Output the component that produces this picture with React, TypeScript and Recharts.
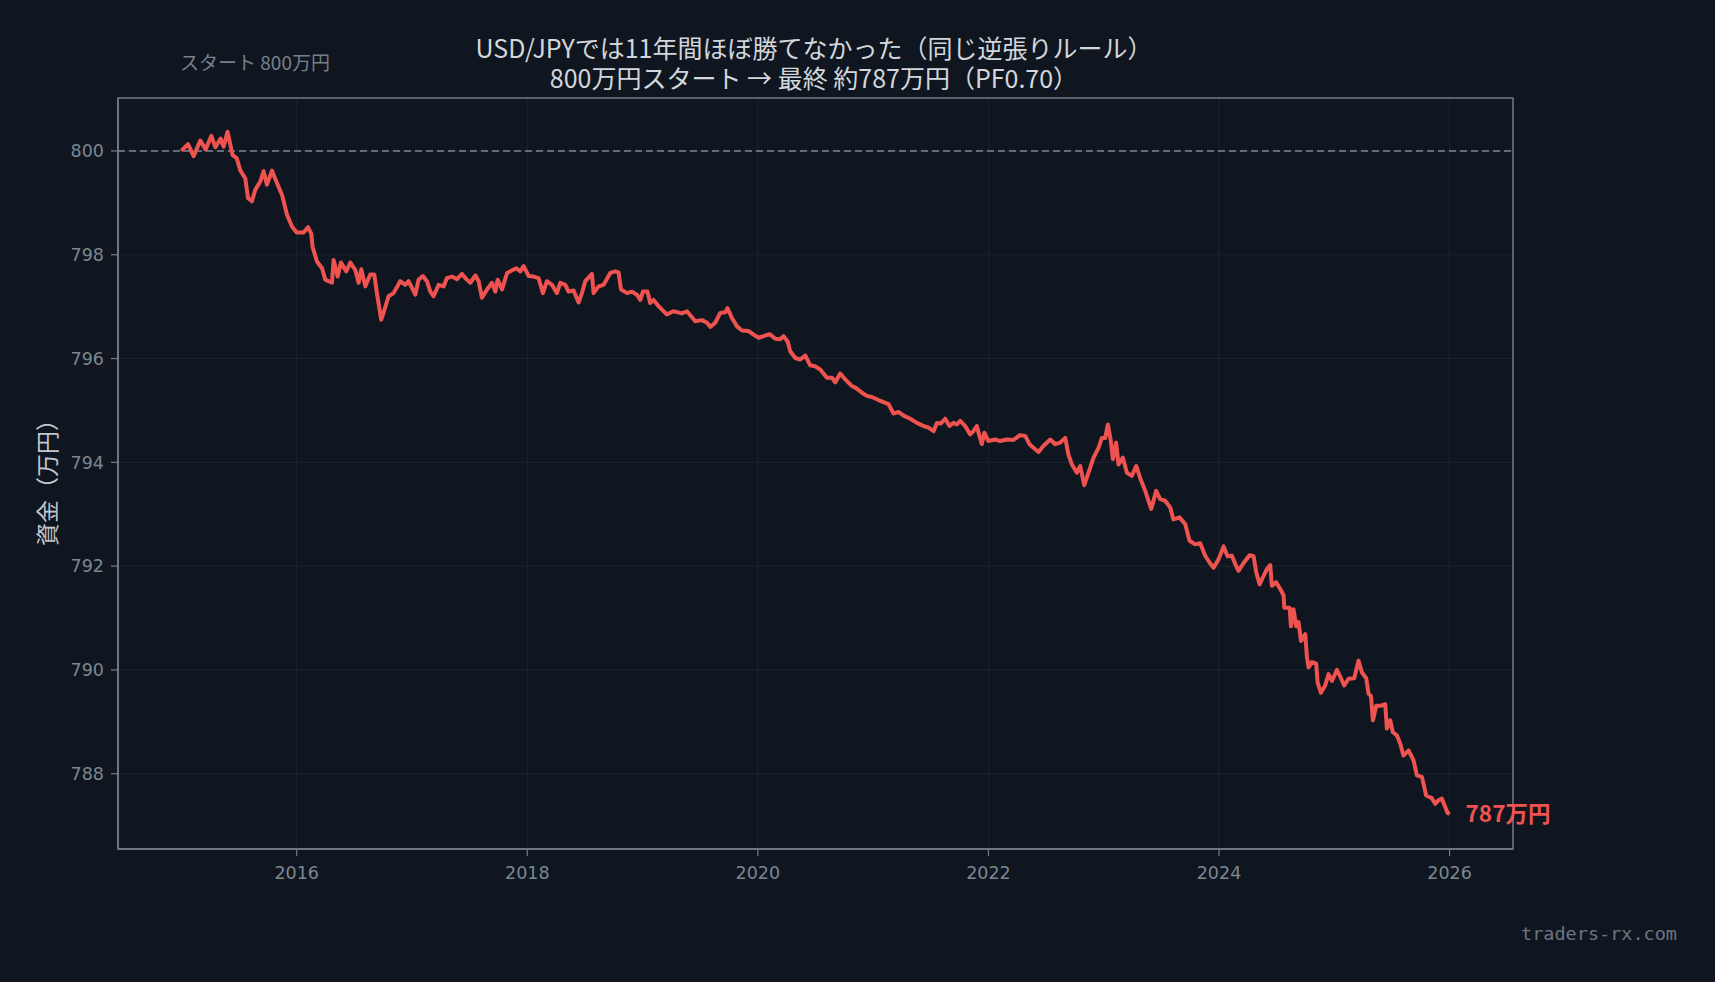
import React from "react";
import {
  LineChart,
  Line,
  XAxis,
  YAxis,
  CartesianGrid,
  ReferenceLine,
  ReferenceArea,
  ReferenceDot,
} from "recharts";

// 年（小数）と資金（万円）
const years = [
  2015.0, 2015.057, 2015.106, 2015.164, 2015.21, 2015.26, 2015.295, 2015.34, 2015.366, 2015.4,
  2015.444, 2015.48, 2015.51, 2015.554, 2015.578, 2015.612, 2015.64, 2015.684, 2015.713, 2015.742,
  2015.786, 2015.829, 2015.873, 2015.916, 2015.96, 2016.0, 2016.06, 2016.098, 2016.127, 2016.138,
  2016.176, 2016.22, 2016.248, 2016.306, 2016.32, 2016.355, 2016.384, 2016.43, 2016.465, 2016.508,
  2016.537, 2016.56, 2016.595, 2016.638, 2016.673, 2016.696, 2016.733, 2016.753, 2016.797, 2016.84,
  2016.898, 2016.941, 2016.97, 2017.0, 2017.029, 2017.057, 2017.095, 2017.13, 2017.159, 2017.187,
  2017.231, 2017.274, 2017.303, 2017.347, 2017.39, 2017.434, 2017.471, 2017.506, 2017.55, 2017.578,
  2017.607, 2017.651, 2017.694, 2017.723, 2017.743, 2017.781, 2017.825, 2017.868, 2017.905, 2017.94,
  2017.968, 2018.012, 2018.055, 2018.098, 2018.136, 2018.17, 2018.214, 2018.257, 2018.286, 2018.33,
  2018.358, 2018.402, 2018.445, 2018.474, 2018.503, 2018.561, 2018.575, 2018.618, 2018.662, 2018.72,
  2018.763, 2018.792, 2018.813, 2018.865, 2018.908, 2018.951, 2018.98, 2019.003, 2019.043, 2019.066,
  2019.095, 2019.139, 2019.21, 2019.268, 2019.341, 2019.385, 2019.457, 2019.515, 2019.559, 2019.587,
  2019.63, 2019.674, 2019.717, 2019.737, 2019.775, 2019.819, 2019.862, 2019.92, 2019.963, 2020.006,
  2020.05, 2020.102, 2020.151, 2020.194, 2020.223, 2020.258, 2020.281, 2020.325, 2020.368, 2020.411,
  2020.454, 2020.498, 2020.541, 2020.599, 2020.643, 2020.671, 2020.714, 2020.758, 2020.816, 2020.859,
  2020.903, 2020.946, 2020.989, 2021.047, 2021.09, 2021.134, 2021.177, 2021.22, 2021.264, 2021.322,
  2021.38, 2021.437, 2021.481, 2021.524, 2021.553, 2021.588, 2021.625, 2021.662, 2021.697, 2021.726,
  2021.755, 2021.798, 2021.841, 2021.87, 2021.899, 2021.922, 2021.943, 2021.964, 2022.0, 2022.059,
  2022.102, 2022.16, 2022.217, 2022.27, 2022.319, 2022.356, 2022.391, 2022.434, 2022.478, 2022.536,
  2022.579, 2022.622, 2022.666, 2022.694, 2022.724, 2022.767, 2022.796, 2022.831, 2022.868, 2022.912,
  2022.955, 2022.984, 2023.013, 2023.036, 2023.062, 2023.08, 2023.108, 2023.128, 2023.166, 2023.201,
  2023.244, 2023.282, 2023.316, 2023.36, 2023.412, 2023.455, 2023.49, 2023.533, 2023.577, 2023.605,
  2023.657, 2023.707, 2023.744, 2023.794, 2023.837, 2023.88, 2023.918, 2023.953, 2023.996, 2024.04,
  2024.074, 2024.112, 2024.141, 2024.169, 2024.213, 2024.265, 2024.3, 2024.323, 2024.352, 2024.386,
  2024.415, 2024.444, 2024.459, 2024.496, 2024.531, 2024.56, 2024.566, 2024.612, 2024.624, 2024.646,
  2024.67, 2024.69, 2024.711, 2024.748, 2024.763, 2024.777, 2024.806, 2024.843, 2024.855, 2024.884,
  2024.921, 2024.95, 2024.98, 2025.023, 2025.058, 2025.086, 2025.124, 2025.173, 2025.21, 2025.24,
  2025.277, 2025.297, 2025.318, 2025.335, 2025.364, 2025.404, 2025.442, 2025.456, 2025.485, 2025.508,
  2025.543, 2025.572, 2025.6, 2025.644, 2025.687, 2025.716, 2025.76, 2025.797, 2025.846, 2025.875,
  2025.904, 2025.933, 2025.962, 2025.982, 2026.0,
];

const capital = [
  800.0, 800.13, 799.9, 800.2, 800.03, 800.29, 800.07, 800.24, 800.08, 800.37,
  799.92, 799.86, 799.63, 799.47, 799.09, 799.03, 799.25, 799.41, 799.61, 799.35,
  799.62, 799.38, 799.15, 798.77, 798.54, 798.43, 798.43, 798.53, 798.4, 798.15,
  797.87, 797.74, 797.52, 797.46, 797.9, 797.58, 797.85, 797.68, 797.85, 797.71,
  797.46, 797.72, 797.39, 797.62, 797.62, 797.26, 796.75, 796.88, 797.2, 797.26,
  797.49, 797.42, 797.49, 797.36, 797.23, 797.52, 797.59, 797.49, 797.29, 797.2,
  797.42, 797.39, 797.55, 797.58, 797.53, 797.63, 797.53, 797.46, 797.6, 797.49,
  797.17, 797.33, 797.46, 797.29, 797.52, 797.33, 797.65, 797.7, 797.74, 797.68,
  797.78, 797.59, 797.58, 797.55, 797.26, 797.49, 797.42, 797.26, 797.46, 797.42,
  797.29, 797.31, 797.08, 797.26, 797.49, 797.63, 797.26, 797.39, 797.42, 797.65,
  797.68, 797.66, 797.33, 797.26, 797.29, 797.23, 797.13, 797.29, 797.29, 797.07,
  797.13, 797.01, 796.85, 796.91, 796.87, 796.91, 796.72, 796.74, 796.69, 796.61,
  796.69, 796.88, 796.89, 796.97, 796.78, 796.62, 796.54, 796.53, 796.46, 796.4,
  796.43, 796.47, 796.38, 796.37, 796.43, 796.33, 796.14, 796.01, 795.98, 796.06,
  795.87, 795.85, 795.79, 795.63, 795.63, 795.54, 795.71, 795.6, 795.47, 795.42,
  795.34, 795.28, 795.26, 795.2, 795.16, 795.12, 794.94, 794.97, 794.9, 794.84,
  794.76, 794.7, 794.67, 794.6, 794.76, 794.75, 794.84, 794.7, 794.76, 794.73,
  794.8, 794.7, 794.54, 794.6, 794.7, 794.51, 794.35, 794.57, 794.41, 794.44,
  794.41, 794.44, 794.43, 794.52, 794.51, 794.35, 794.28, 794.2, 794.32, 794.44,
  794.35, 794.38, 794.47, 794.15, 793.96, 793.8, 793.93, 793.56, 793.8, 794.09,
  794.28, 794.47, 794.47, 794.73, 794.41, 794.06, 794.38, 793.96, 794.09, 793.8,
  793.74, 793.93, 793.7, 793.45, 793.1, 793.45, 793.29, 793.26, 793.13, 792.9,
  792.94, 792.81, 792.49, 792.42, 792.44, 792.2, 792.07, 791.97, 792.13, 792.38,
  792.19, 792.2, 792.04, 791.91, 792.06, 792.21, 792.19, 791.88, 791.65, 791.81,
  791.94, 792.02, 791.62, 791.69, 791.56, 791.44, 791.2, 791.2, 790.84, 791.17,
  790.84, 790.92, 790.56, 790.69, 790.24, 790.05, 790.15, 790.12, 789.76, 789.56,
  789.7, 789.92, 789.79, 790.0, 789.84, 789.7, 789.83, 789.84, 790.18, 789.95,
  789.84, 789.54, 789.5, 789.03, 789.31, 789.31, 789.34, 788.87, 789.03, 788.8,
  788.74, 788.58, 788.35, 788.45, 788.26, 787.97, 787.94, 787.58, 787.53, 787.42,
  787.49, 787.52, 787.36, 787.25, 787.22,
];

const xTicks = [2016, 2018, 2020, 2022, 2024, 2026];
const yTicks = [788, 790, 792, 794, 796, 798, 800];
const xDomain = [2014.45, 2026.55];
const yDomain = [786.55, 801.02];
const startCapital = 800;

const titleLines = [
  "USD/JPYでは11年間ほぼ勝てなかった（同じ逆張りルール）",
  "800万円スタート → 最終 約787万円（PF0.70）",
];
const startLabel = "スタート 800万円";
const finalLabel = "787万円";
const yLabel = "資金（万円）";
const watermark = "traders-rx.com";

const data = years.map((t, i) => ({ t, v: capital[i] }));
const last = data[data.length - 1];

const BG = "#0f1620";
const RED = "#ef5350";
const SPINE = "#737e8a";
const GRID = "#1c2430";
const TICK = "#7c8792";
const JP = "'Noto Sans CJK JP', 'Noto Sans', sans-serif";
const DJ = "'DejaVu Sans', sans-serif";

export default function App() {
  return (
    <div
      style={{
        position: "relative",
        width: 1715,
        height: 982,
        background: BG,
        fontFamily: JP,
        overflow: "hidden",
      }}
    >
      <style>{`body{margin:0;background:${BG};}`}</style>
      <div
        style={{
          position: "absolute",
          left: 414,
          width: 800,
          top: 32,
          textAlign: "center",
          color: "#d3d7dc",
          fontSize: 25,
          lineHeight: "30px",
        }}
      >
        {titleLines.map((l) => (
          <div key={l}>{l}</div>
        ))}
      </div>
      <div
        style={{
          position: "absolute",
          left: 155,
          width: 200,
          top: 48,
          textAlign: "center",
          color: "#76808b",
          fontSize: 19,
          lineHeight: "28px",
        }}
      >
        {startLabel}
      </div>
      <div
        style={{
          position: "absolute",
          left: 46 - 100,
          top: 477 - 16,
          width: 200,
          height: 32,
          textAlign: "center",
          color: "#c3c8ce",
          fontSize: 23,
          lineHeight: "32px",
          transform: "rotate(-90deg)",
        }}
      >
        {yLabel}
      </div>
      <div
        style={{
          position: "absolute",
          right: 38,
          top: 921,
          color: "#6b7580",
          fontFamily: "'DejaVu Sans Mono', monospace",
          fontSize: 18.5,
          lineHeight: "26px",
        }}
      >
        {watermark}
      </div>
      <div style={{ position: "absolute", left: 0, top: 0 }}>
        <LineChart
          width={1715}
          height={982}
          data={data}
          margin={{ top: 98, right: 202, bottom: 93, left: 58 }}
        >
          <CartesianGrid stroke={GRID} strokeWidth={1} horizontalValues={yTicks} verticalValues={xTicks} />
          <XAxis
            dataKey="t"
            type="number"
            domain={xDomain}
            ticks={xTicks}
            allowDataOverflow
            height={40}
            tickSize={7}
            tickMargin={11}
            axisLine={{ stroke: SPINE, strokeWidth: 1.5 }}
            tickLine={{ stroke: SPINE, strokeWidth: 1.2 }}
            tick={{ fill: TICK, fontSize: 17.5, fontFamily: DJ }}
          />
          <YAxis
            type="number"
            domain={yDomain}
            ticks={yTicks}
            allowDataOverflow
            width={60}
            tickSize={7}
            tickMargin={7}
            axisLine={{ stroke: SPINE, strokeWidth: 1.5 }}
            tickLine={{ stroke: SPINE, strokeWidth: 1.2 }}
            tick={{ fill: TICK, fontSize: 17.5, fontFamily: DJ }}
          />
          <ReferenceArea
            x1={xDomain[0]}
            x2={xDomain[1]}
            y1={yDomain[0]}
            y2={yDomain[1]}
            fill="none"
            stroke={SPINE}
            strokeWidth={1.5}
          />
          <ReferenceLine
            y={startCapital}
            stroke="#7d8792"
            strokeWidth={1.4}
            strokeDasharray="7 4"
          />
          <Line
            type="linear"
            dataKey="v"
            stroke={RED}
            strokeWidth={4}
            strokeLinejoin="round"
            dot={false}
            isAnimationActive={false}
          />
          <ReferenceDot
            x={last.t}
            y={last.v}
            r={0}
            fill="none"
            stroke="none"
            label={{
              value: finalLabel,
              position: "right",
              offset: 16,
              fill: RED,
              fontSize: 22.5,
              fontWeight: 700,
              fontFamily: JP,
            }}
          />
        </LineChart>
      </div>
    </div>
  );
}
